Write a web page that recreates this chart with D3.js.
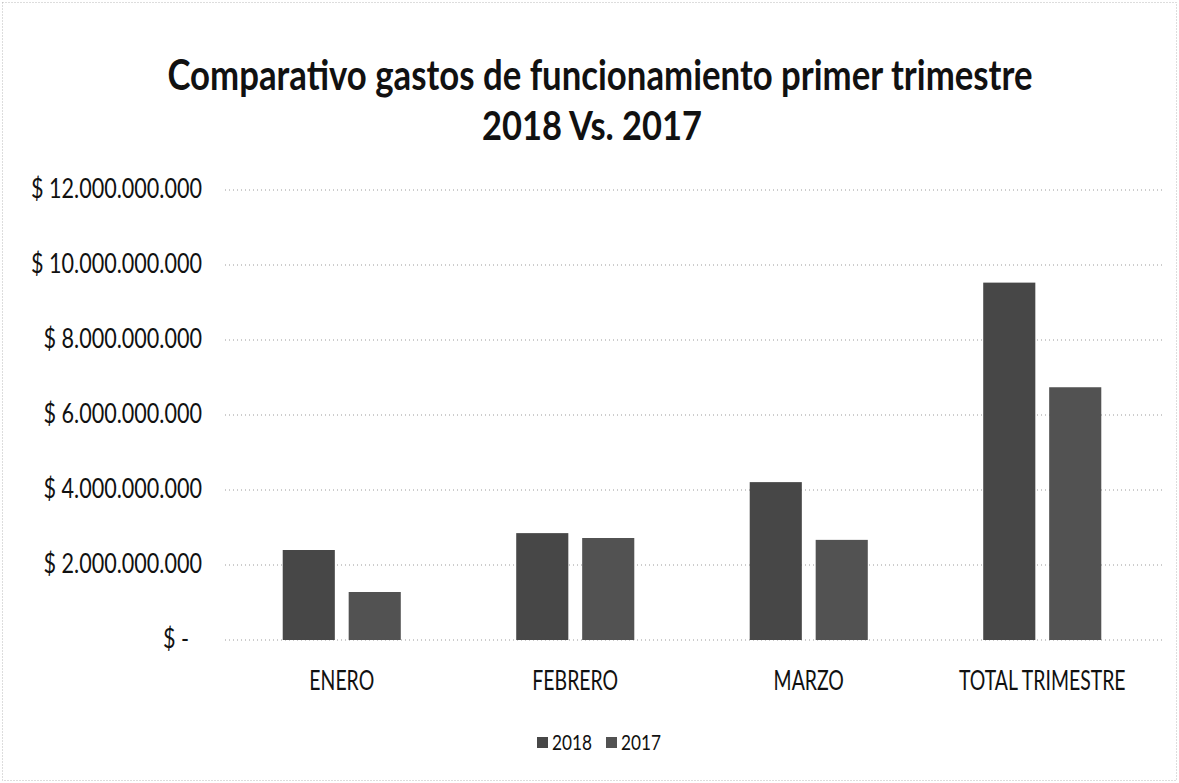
<html>
<head>
<meta charset="utf-8">
<style>
  body { margin: 0; background: #fff; }
  text { font-family: Lato, "Open Sans", "Liberation Sans", sans-serif; fill: #111; }
</style>
</head>
<body>
<script src="https://d3js.org/d3.v7.min.js"></script>
<script>
    // datos
    var categories = ['ENERO', 'FEBRERO', 'MARZO', 'TOTAL TRIMESTRE'];
    var seriesNames = ['2018', '2017'];
    var values2018 = [2400000000, 2850000000, 4210000000, 9530000000];
    var values2017 = [1280000000, 2720000000, 2670000000, 6740000000];
    var yTicks = [0, 2000000000, 4000000000, 6000000000, 8000000000, 10000000000, 12000000000];
    var titleLines = ['Comparativo gastos de funcionamiento primer trimestre', '2018 Vs. 2017'];

    var width = 1179,
        height = 783,
        plotLeft = 225, plotRight = 1159,
        plotTop = 190, plotBottom = 640,
        colors = { '2018': '#474747', '2017': '#525252' };

    var rows = categories.map((c, i) => ({ cat: c, '2018': values2018[i], '2017': values2017[i] }));

    // formato moneda con punto de miles
    var loc = d3.formatLocale({ decimal: ',', thousands: '.', grouping: [3], currency: ['$ ', ''] });
    var money = loc.format('$,.0f');

    //escalas
    var y = d3.scaleLinear().domain([0, 12000000000]).range([plotBottom, plotTop]);
    var x0 = d3.scaleBand().domain(categories).range([plotLeft, plotRight]).padding(0);
    var x1 = d3.scaleBand().domain(seriesNames).range([0, x0.bandwidth()])
        .paddingInner(0.21).paddingOuter(0.875);

    var svg = d3.select('body').append('svg')
        .attr('width', width).attr('height', height);

    // ajusta el ancho del texto (la fuente original es mas angosta)
    function fitWidth(sel, w) {
        sel.attr('textLength', w).attr('lengthAdjust', 'spacingAndGlyphs');
    }
    function condense(sel, k) {
        sel.each(function () {
            var w = this.getComputedTextLength();
            d3.select(this).attr('textLength', w * k).attr('lengthAdjust', 'spacingAndGlyphs');
        });
    }

    // borde del area del grafico
    svg.append('rect')
        .attr('x', 2.5).attr('y', 2.5)
        .attr('width', width - 5).attr('height', height - 5)
        .attr('fill', 'none').attr('stroke', '#bbb')
        .attr('stroke-dasharray', '1,2');

    //titulo
    svg.append('text')
        .attr('x', 600).attr('y', 90)
        .attr('text-anchor', 'middle')
        .attr('font-size', 42).attr('font-weight', 'bold')
        .text(titleLines[0])
        .call(fitWidth, 865);
    svg.append('text')
        .attr('x', 592).attr('y', 140)
        .attr('text-anchor', 'middle')
        .attr('font-size', 40).attr('font-weight', 'bold')
        .text(titleLines[1])
        .call(fitWidth, 220);

    //lineas de cuadricula
    svg.append('g')
        .selectAll('line')
        .data(yTicks)
        .join('line')
        .attr('x1', plotLeft).attr('x2', plotRight + 4)
        .attr('y1', d => y(d)).attr('y2', d => y(d))
        .attr('stroke', '#9a9a9a')
        .attr('stroke-dasharray', '1,3');

    //eje Y
    var yAxis = svg.append('g')
        .attr('transform', `translate(${plotLeft},0)`)
        .call(d3.axisLeft(y).tickValues(yTicks).tickSize(0).tickPadding(23)
            .tickFormat(d => d === 0 ? '$ -' : money(d)));
    yAxis.select('.domain').remove();
    yAxis.selectAll('text')
        .attr('font-size', 26)
        .attr('fill', '#111')
        .attr('dy', '0.28em')
        .attr('dx', d => d === 0 ? -13 : 0)
        .call(condense, 0.83);

    //barras
    var groups = svg.append('g')
        .selectAll('g')
        .data(rows)
        .join('g')
        .attr('transform', d => `translate(${x0(d.cat)},0)`);

    groups.selectAll('rect')
        .data(d => seriesNames.map(s => ({ key: s, value: d[s] })))
        .join('rect')
        .attr('x', d => x1(d.key))
        .attr('y', d => y(d.value))
        .attr('width', x1.bandwidth())
        .attr('height', d => y(0) - y(d.value))
        .attr('fill', d => colors[d.key]);

    //eje X
    var xAxis = svg.append('g')
        .attr('transform', `translate(0,${plotBottom})`)
        .call(d3.axisBottom(x0).tickSize(0));
    xAxis.select('.domain').remove();
    xAxis.selectAll('text')
        .attr('font-size', 27)
        .attr('fill', '#111')
        .attr('y', 50).attr('dy', 0)
        .call(condense, 0.72);

    //leyenda
    var legendX = [537, 606];
    var legend = svg.append('g')
        .selectAll('g')
        .data(seriesNames)
        .join('g')
        .attr('transform', (d, i) => `translate(${legendX[i]},0)`);
    legend.append('rect')
        .attr('x', 0).attr('y', 737)
        .attr('width', 11).attr('height', 11)
        .attr('fill', d => colors[d]);
    legend.append('text')
        .attr('x', 15).attr('y', 750)
        .attr('font-size', 21)
        .text(d => d)
        .call(fitWidth, 40);
</script>
</body>
</html>
